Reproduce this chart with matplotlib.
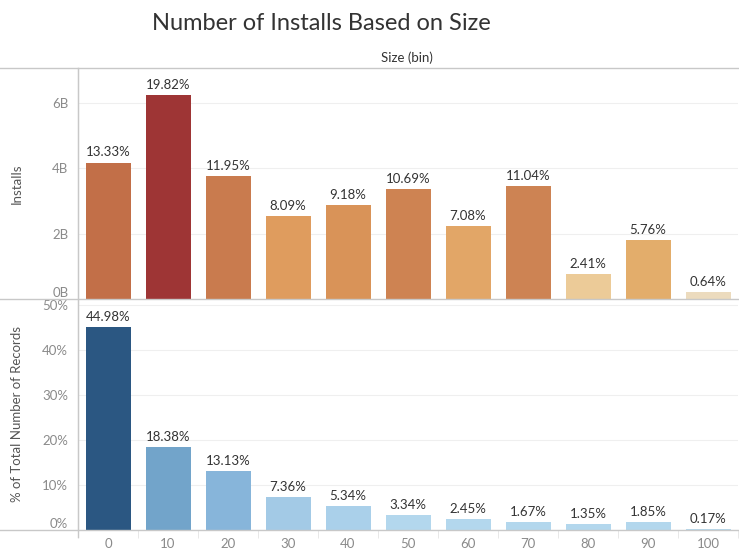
import matplotlib.pyplot as plt
from matplotlib.lines import Line2D

plt.rcParams['font.family'] = ['Lato', 'DejaVu Sans']

# size bins (MB)
bins = [0, 10, 20, 30, 40, 50, 60, 70, 80, 90, 100]
bin_labels = [str(b) for b in bins]

# total installs per bin (billions) and share of installs
installs_b = [4.18, 6.25, 3.76, 2.54, 2.88, 3.36, 2.23, 3.47, 0.76, 1.81, 0.20]
install_pct = [13.33, 19.82, 11.95, 8.09, 9.18, 10.69, 7.08, 11.04, 2.41, 5.76, 0.64]

# share of records per bin (%)
records_pct = [44.98, 18.38, 13.13, 7.36, 5.34, 3.34, 2.45, 1.67, 1.35, 1.85, 0.17]

top_colors = ['#C26F48', '#9E3535', '#C97B4E', '#DF9C5E', '#D99358', '#CE8352',
              '#E2A667', '#CD8353', '#ECCB98', '#E3AD6B', '#ECDBBE']
bot_colors = ['#2B5782', '#72A4CA', '#87B5DA', '#A3CAE6', '#AAD0EA', '#B3D7ED',
              '#B3D7ED', '#B3D7ED', '#B3D7ED', '#B3D7ED', '#B3D7ED']

W, H = 739, 552
fig = plt.figure(figsize=(W / 100, H / 100), dpi=100)

def px_axes(x0, y0, x1, y1):
    return fig.add_axes([x0 / W, 1 - y1 / H, (x1 - x0) / W, (y1 - y0) / H])

ax1 = px_axes(78, 68, 738, 299)
ax2 = px_axes(78, 299, 738, 530)

pos = list(range(len(bins)))
label_col = '#333333'
tick_col = '#8A8A8A'
line_col = '#C8C8C8'

ax1.bar(pos, installs_b, width=0.75, color=top_colors)
for x, v, p in zip(pos, installs_b, install_pct):
    ax1.annotate(f'{p:.2f}%', (x, v), xytext=(0, 3), textcoords='offset points',
                 ha='center', va='bottom', fontsize=9.5, color=label_col)
ax1.set_ylim(0, 7.08)
ax1.set_yticks([0, 2, 4, 6])
ax1.set_yticklabels(['0B', '2B', '4B', '6B'])

ax2.bar(pos, records_pct, width=0.75, color=bot_colors)
for x, v in zip(pos, records_pct):
    ax2.annotate(f'{v:.2f}%', (x, v), xytext=(0, 3), textcoords='offset points',
                 ha='center', va='bottom', fontsize=9.5, color=label_col)
ax2.set_ylim(0, 51.3)
ax2.set_yticks([0, 10, 20, 30, 40, 50])
ax2.set_yticklabels(['0%', '10%', '20%', '30%', '40%', '50%'])

for ax in (ax1, ax2):
    ax.set_xlim(-0.5, len(bins) - 0.5)
    for s in ('top', 'right', 'bottom'):
        ax.spines[s].set_visible(False)
    ax.spines['left'].set_color(line_col)
    ax.grid(axis='y', color='#EFEFEF', linewidth=0.8)
    ax.set_axisbelow(True)
    ax.tick_params(axis='y', length=0, pad=7, labelsize=9.5, labelcolor=tick_col)
    ax.yaxis.get_ticklabels()[0].set_verticalalignment('bottom')

ax1.set_xticks([])
ax2.set_xticks(pos)
ax2.set_xticklabels(bin_labels)
ax2.tick_params(axis='x', length=0, pad=6, labelsize=9.5, labelcolor=tick_col)
ax2.set_xticks([p + 0.5 for p in [-1] + pos], minor=True)
ax2.tick_params(axis='x', which='minor', length=6, color='#E4E4E4')

ax1.set_ylabel('Installs', fontsize=9.5, color='#555555')
ax2.set_ylabel('% of Total Number of Records', fontsize=9.5, color='#555555')
ax1.yaxis.set_label_coords((23 - 78) / 660, 0.5)
ax2.yaxis.set_label_coords((23 - 78) / 660, 0.5)

# frame lines across the whole width
for y in (68, 299, 530):
    fig.add_artist(Line2D([0, 1], [1 - y / H, 1 - y / H], color=line_col, linewidth=1))
fig.add_artist(Line2D([78 / W, 78 / W], [1 - 537 / H, 1 - 68 / H], color=line_col, linewidth=1))

fig.text(321 / W, 1 - 23 / H, 'Number of Installs Based on Size', ha='center', va='center',
         fontsize=17, color='#333333')
fig.text(407 / W, 1 - 58 / H, 'Size (bin)', ha='center', va='center',
         fontsize=9.5, color=label_col)

fig.savefig('out.png', dpi=100)
